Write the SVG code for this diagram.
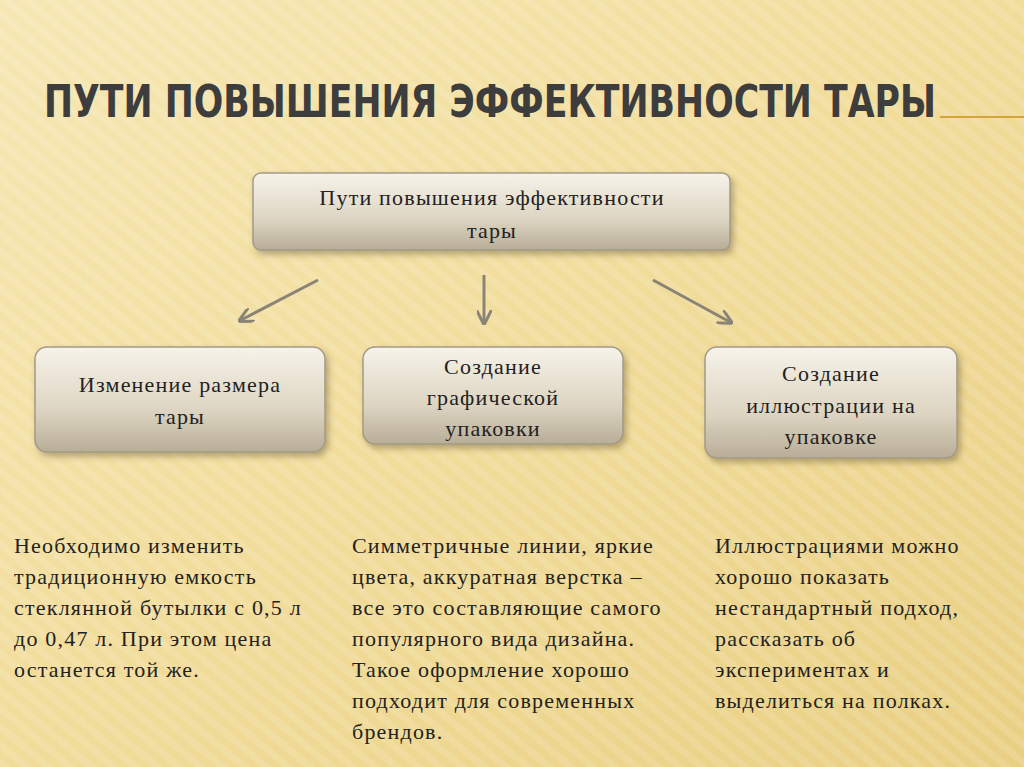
<svg xmlns="http://www.w3.org/2000/svg" width="1024" height="767" viewBox="0 0 1024 767">
<defs>
<linearGradient id="bg" x1="0" y1="0" x2="1" y2="1">
<stop offset="0" stop-color="#f6e7b4"/><stop offset="0.5" stop-color="#f1dc9a"/><stop offset="1" stop-color="#e9cf83"/>
</linearGradient>
<pattern id="stripes" width="14" height="14" patternUnits="userSpaceOnUse" patternTransform="rotate(-50)">
<rect width="7" height="14" fill="#ffffff" opacity="0.12"/>
</pattern>
<linearGradient id="box" x1="0" y1="0" x2="0" y2="1">
<stop offset="0" stop-color="#f7f3ea"/><stop offset="0.6" stop-color="#ddd5c2"/><stop offset="1" stop-color="#b8ad97"/>
</linearGradient>
<filter id="sh" x="-10%" y="-20%" width="125%" height="150%">
<feDropShadow dx="3" dy="4" stdDeviation="3" flood-color="#6b5a30" flood-opacity="0.45"/>
</filter>
<marker id="ah" viewBox="0 0 10 10" refX="8" refY="5" markerWidth="5" markerHeight="5" orient="auto">
<path d="M0,0 L10,5 L0,10" fill="none" stroke="#8a8478" stroke-width="2"/>
</marker>
</defs>
<style>
.box{fill:url(#box);stroke:#a39a86;stroke-width:1.5;filter:url(#sh)}
.t{font-family:"Liberation Serif",serif;font-size:22px;letter-spacing:1.2px;fill:#222}
.c{text-anchor:middle}
.title{font-family:"Liberation Sans Narrow","DejaVu Sans Condensed","Liberation Sans",sans-serif;font-weight:bold;font-size:44px;fill:#3d3d3d}
</style>
<rect width="1024" height="767" fill="url(#bg)"/>
<rect width="1024" height="767" fill="url(#stripes)"/>
<text class="title" x="44" y="117" textLength="892" lengthAdjust="spacingAndGlyphs">ПУТИ ПОВЫШЕНИЯ ЭФФЕКТИВНОСТИ ТАРЫ</text>
<line x1="940" y1="117" x2="1024" y2="117" stroke="#d6a341" stroke-width="2"/>
<g id="connectors" stroke="#8a8478" stroke-width="3" marker-end="url(#ah)">
<line x1="318" y1="280" x2="241" y2="320"/>
<line x1="484" y1="275" x2="484" y2="322"/>
<line x1="653" y1="280" x2="730" y2="322"/>
</g>
<g id="top"><rect class="box" x="253" y="173" width="477" height="77" rx="8"/>
<text class="t c" x="492" y="205">Пути повышения эффективности</text><text class="t c" x="492" y="238">тары</text></g>
<g id="n1"><rect class="box" x="35" y="347" width="290" height="105" rx="12"/>
<text class="t c" x="180" y="392">Изменение размера</text><text class="t c" x="180" y="424">тары</text></g>
<g id="n2"><rect class="box" x="363" y="347" width="260" height="97" rx="12"/>
<text class="t c" x="493" y="374">Создание</text><text class="t c" x="493" y="405">графической</text><text class="t c" x="493" y="436">упаковки</text></g>
<g id="n3"><rect class="box" x="705" y="347" width="252" height="111" rx="12"/>
<text class="t c" x="831" y="381">Создание</text><text class="t c" x="831" y="413">иллюстрации на</text><text class="t c" x="831" y="444">упаковке</text></g>
<g id="d1" class="t">
<text x="14" y="553">Необходимо изменить</text><text x="14" y="584">традиционную емкость</text><text x="14" y="615">стеклянной бутылки с 0,5 л</text><text x="14" y="646">до 0,47 л. При этом цена</text><text x="14" y="677">останется той же.</text></g>
<g id="d2" class="t">
<text x="352" y="553">Симметричные линии, яркие</text><text x="352" y="584">цвета, аккуратная верстка –</text><text x="352" y="615">все это составляющие самого</text><text x="352" y="646">популярного вида дизайна.</text><text x="352" y="677">Такое оформление хорошо</text><text x="352" y="708">подходит для современных</text><text x="352" y="739">брендов.</text></g>
<g id="d3" class="t">
<text x="715" y="553">Иллюстрациями можно</text><text x="715" y="584">хорошо показать</text><text x="715" y="615">нестандартный подход,</text><text x="715" y="646">рассказать об</text><text x="715" y="677">экспериментах и</text><text x="715" y="708">выделиться на полках.</text></g>
</svg>
